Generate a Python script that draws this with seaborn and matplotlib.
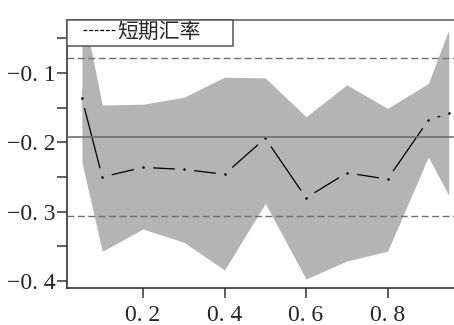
import matplotlib
matplotlib.use('Agg')
import matplotlib.pyplot as plt
from matplotlib.lines import Line2D
from matplotlib.legend_handler import HandlerLine2D
import seaborn as sns
import pandas as pd

# quantiles and estimated coefficients
quantiles = [0.05, 0.1, 0.2, 0.3, 0.4, 0.5, 0.6, 0.7, 0.8, 0.9, 0.95]
coef = [-0.136, -0.250, -0.236, -0.239, -0.246, -0.194, -0.280, -0.244, -0.253, -0.168, -0.158]
ci_upper = [0.000, -0.146, -0.145, -0.135, -0.106, -0.107, -0.163, -0.117, -0.151, -0.115, -0.038]
ci_lower = [-0.228, -0.357, -0.325, -0.344, -0.384, -0.288, -0.397, -0.371, -0.357, -0.221, -0.276]
ols_coef = -0.192
ols_ci = [-0.306, -0.078]

yticks = [-0.4, -0.3, -0.2, -0.1]
ytick_labels = ['−0. 4', '−0. 3', '−0. 2', '−0. 1']
xticks = [0.2, 0.4, 0.6, 0.8]
xtick_labels = ['0. 2', '0. 4', '0. 6', '0. 8']
series_name = '短期汇率'

df = pd.DataFrame({'q': quantiles, 'coef': coef})

sns.set_style('ticks')
plt.rcParams['font.family'] = ['Liberation Serif', 'Noto Sans CJK SC']

fig = plt.figure(figsize=(4.54, 3.25), dpi=100)
ax = fig.add_axes([67 / 454, 1 - 288 / 325, 1 - 67 / 454, (288 - 20) / 325])

fill_grey = '#b4b4b4'
band = ax.fill_between(quantiles, ci_lower, ci_upper, color=fill_grey, lw=0, zorder=1)

# coefficient line
sns.lineplot(data=df, x='q', y='coef', ax=ax, color='black', lw=0.9, zorder=2)

# grey halo round each point breaks the line near the dots
halo, = ax.plot(quantiles, coef, ls='none', marker='o', markersize=14,
                markerfacecolor=fill_grey, markeredgewidth=0, zorder=2.5)
halo.set_clip_path(band.get_paths()[0], ax.transData)
ax.plot(quantiles, coef, ls='none', marker='o', markersize=1.8,
        markeredgewidth=0, color='black', zorder=3)

# OLS estimate and its confidence interval
ax.axhline(ols_coef, color='#707070', lw=1.2, zorder=4)
for v in ols_ci:
    ax.axhline(v, color='#707070', lw=1.0, ls=(0, (5, 2.5)), zorder=4)

ax.set_xlim(0.0135, 0.963)
ax.set_ylim(-0.410, -0.0235)
ax.set_xticks(xticks, xtick_labels)
ax.set_yticks(yticks, ytick_labels)
ax.set_yticks([-0.35, -0.25, -0.15, -0.05], minor=True)
ax.tick_params(axis='both', which='both', labelsize=17, length=7.2, width=1.1, color='#333333')
ax.tick_params(axis='y', pad=1)
ax.tick_params(axis='x', pad=5)
ax.set_xlabel('')
ax.set_ylabel('')

ax.spines['right'].set_visible(False)
for s in ['left', 'bottom']:
    ax.spines[s].set_color('#333333')
    ax.spines[s].set_linewidth(1.2)
ax.spines['top'].set_color('#666666')
ax.spines['top'].set_linewidth(1.2)

handle = Line2D([], [], color='black', lw=0.9, ls=(0, (3, 1.5)))
leg = ax.legend([handle], [series_name], loc='upper left', mode='expand',
                bbox_to_anchor=(0, 0, 0.429, 1), borderaxespad=0, fancybox=False,
                framealpha=1, edgecolor='#555555', fontsize=15, handlelength=2.16,
                handletextpad=0.1, borderpad=0.15,
                handler_map={handle: HandlerLine2D(xpad=0.63)})
leg.get_frame().set_linewidth(1.1)
leg.set_zorder(5)

fig.savefig('out.png', dpi=100)
